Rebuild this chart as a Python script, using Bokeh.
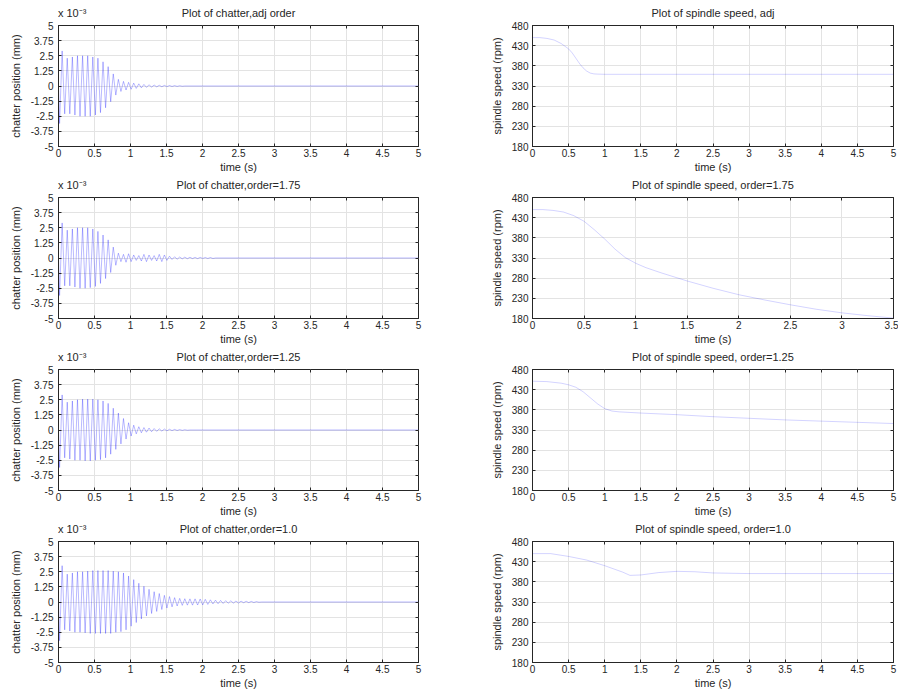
import numpy as np
from bokeh.plotting import figure
from bokeh.layouts import column, row
from bokeh.models import FixedTicker, LinearAxis, Range1d
from bokeh.embed import file_html
from bokeh.resources import INLINE

FONT = "Liberation Sans"
TXT = "#262626"

# ---------------- data ----------------
time_ticks = [0, 0.5, 1, 1.5, 2, 2.5, 3, 3.5, 4, 4.5, 5]
time_tick_labels = ["0", "0.5", "1", "1.5", "2", "2.5", "3", "3.5", "4", "4.5", "5"]
chatter_ticks = [5, 3.75, 2.5, 1.25, 0, -1.25, -2.5, -3.75, -5]
chatter_tick_labels = ["5", "3.75", "2.5", "1.25", "0", "-1.25", "-2.5", "-3.75", "-5"]
speed_ticks = [180, 230, 280, 330, 380, 430, 480]
speed_tick_labels = ["180", "230", "280", "330", "380", "430", "480"]
chatter_scale_text = "x 10\u207b\u00b3"

# chatter: successive peak magnitudes (x 1e-3 mm), alternating sign, one every half period
half_period = 0.0355
first_peak = 0.015
chatter_adj = [3.1, 2.9, 2.3, 2.3, 2.3, 2.4, 2.4, 2.5, 2.5, 2.5, 2.5, 2.5, 2.5, 2.4, 2.4, 2.3,
               2.2, 2.0, 1.8, 1.6, 1.3, 1.0, 0.75, 0.55, 0.45, 0.38, 0.33, 0.3, 0.27, 0.24,
               0.2, 0.18, 0.15, 0.13, 0.11, 0.1, 0.09, 0.08, 0.07, 0.06, 0.06, 0.05, 0.05,
               0.04, 0.04, 0.03, 0.03, 0.02, 0.02]
chatter_175 = [3.1, 2.9, 2.3, 2.3, 2.3, 2.4, 2.4, 2.5, 2.5, 2.5, 2.5, 2.5, 2.45, 2.4, 2.35, 2.2,
               2.1, 1.9, 1.7, 1.5, 1.2, 0.9, 0.6, 0.4, 0.3, 0.3, 0.35, 0.35, 0.3, 0.25, 0.2,
               0.2, 0.25, 0.3, 0.3, 0.25, 0.2, 0.2, 0.25, 0.3, 0.3, 0.25, 0.2, 0.15, 0.12,
               0.1, 0.1, 0.08, 0.07, 0.07, 0.06, 0.06, 0.05, 0.05, 0.05, 0.05, 0.04, 0.04,
               0.04, 0.04, 0.04]
chatter_125 = [3.1, 2.9, 2.3, 2.3, 2.4, 2.4, 2.5, 2.5, 2.5, 2.55, 2.55, 2.55, 2.55, 2.55, 2.5,
               2.5, 2.45, 2.4, 2.3, 2.2, 2.0, 1.8, 1.6, 1.4, 1.15, 0.95, 0.75, 0.6, 0.5, 0.4,
               0.32, 0.27, 0.23, 0.2, 0.18, 0.16, 0.14, 0.12, 0.11, 0.1, 0.09, 0.08, 0.07,
               0.06, 0.05, 0.05, 0.04, 0.03, 0.03, 0.02, 0.02]
chatter_10 = [3.2, 3.0, 2.3, 2.3, 2.4, 2.4, 2.5, 2.5, 2.5, 2.5, 2.55, 2.55, 2.6, 2.6, 2.6, 2.6,
              2.6, 2.6, 2.6, 2.6, 2.6, 2.55, 2.5, 2.5, 2.45, 2.4, 2.3, 2.15, 2.0, 1.85, 1.7,
              1.55, 1.4, 1.3, 1.15, 1.05, 0.95, 0.85, 0.78, 0.7, 0.62, 0.55, 0.5, 0.45, 0.4,
              0.36, 0.33, 0.3, 0.28, 0.27, 0.26, 0.26, 0.26, 0.26, 0.25, 0.25, 0.24, 0.22,
              0.2, 0.18, 0.16, 0.15, 0.14, 0.13, 0.12, 0.11, 0.1, 0.1, 0.09, 0.08, 0.08,
              0.07, 0.06, 0.06, 0.05, 0.05, 0.04, 0.03, 0.02]

# spindle speed (rpm)
speed_adj_t = [0, 0.1, 0.2, 0.3, 0.4, 0.5, 0.55, 0.6, 0.65, 0.7, 0.75, 0.8, 0.85, 0.9, 1.0,
               1.5, 2, 2.5, 3, 3.5, 4, 4.5, 5]
speed_adj = [450, 450, 448, 444, 435, 422, 412, 399, 386, 375, 367, 362, 360, 359.5, 359,
             359, 359, 359, 359, 359, 359, 359, 359]
speed_175_t = [0, 0.1, 0.2, 0.3, 0.4, 0.5, 0.6, 0.7, 0.8, 0.9, 1.0, 1.1, 1.25, 1.5, 1.75,
               2.0, 2.25, 2.5, 2.75, 3.0, 3.25, 3.5]
speed_175 = [450, 450, 448, 444, 435, 421, 400, 377, 352, 331, 317, 306, 293, 273, 255,
             239, 226, 214, 203, 194, 187, 181]
speed_125_t = [0, 0.2, 0.4, 0.5, 0.6, 0.7, 0.8, 0.9, 1.0, 1.1, 1.2, 1.5, 2, 2.5, 3, 3.5,
               4, 4.5, 5]
speed_125 = [451, 450, 446, 442, 436, 425, 410, 395, 383, 377, 375, 372, 368, 363, 359,
             355, 352, 349, 346]
speed_10_t = [0, 0.25, 0.5, 0.75, 1.0, 1.25, 1.35, 1.5, 1.75, 2.0, 2.25, 2.5, 3.0, 3.5, 4,
              4.5, 5]
speed_10 = [450, 450, 443, 434, 420, 404, 396, 397, 403, 406, 405, 402, 400.5, 400.5,
            400.5, 400.5, 400.5]

chatter_titles = ["Plot of chatter,adj order", "Plot of chatter,order=1.75",
                  "Plot of chatter,order=1.25", "Plot of chatter,order=1.0"]
speed_titles = ["Plot of spindle speed, adj", "Plot of spindle speed, order=1.75",
                "Plot of spindle speed, order=1.25", "Plot of spindle speed, order=1.0"]
speed_time_ends = [5, 3.5, 5, 5]

LINE = "#0000ff"


def chatter_series(amps):
    t = [0.0]
    y = [0.0]
    for k, a in enumerate(amps):
        t.append(first_peak + k * half_period)
        y.append(-a if k % 2 == 0 else a)
    t.append(t[-1] + half_period)
    y.append(0.0)
    t.append(5.0)
    y.append(0.0)
    return t, y


def style_axis(ax, ticks, labels):
    ax.ticker = FixedTicker(ticks=ticks)
    ax.major_label_overrides = {tk: lb for tk, lb in zip(ticks, labels)}
    ax.major_tick_in = 3
    ax.major_tick_out = 0
    ax.minor_tick_line_color = None
    ax.minor_tick_out = 0
    ax.major_tick_line_color = TXT
    ax.axis_line_color = TXT
    ax.major_label_text_font = FONT
    ax.major_label_text_font_size = "10px"
    ax.major_label_text_color = TXT
    ax.axis_label_text_font = FONT
    ax.axis_label_text_font_size = "11px"
    ax.axis_label_text_font_style = "normal"
    ax.axis_label_text_color = TXT


def edge_axis(ticker):
    ax = LinearAxis(ticker=ticker)
    ax.major_tick_line_color = None
    ax.major_tick_in = 0
    ax.major_tick_out = 0
    ax.minor_tick_line_color = TXT
    ax.minor_tick_in = 3
    ax.minor_tick_out = 0
    ax.axis_line_color = None
    ax.major_label_text_font = FONT
    ax.major_label_text_font_size = "11px"
    ax.major_label_text_color = TXT
    return ax


def make_fig(title, x_end, y0, y1, yticks, ylabels, ylabel, left, right, top, fw, xt, xl,
             scale_text=None):
    p = figure(frame_width=fw, frame_height=121,
               x_range=Range1d(0, x_end), y_range=Range1d(y0, y1),
               output_backend="svg", toolbar_location=None, title_location=None,
               min_border_left=left, min_border_right=right,
               min_border_top=top, min_border_bottom=28)
    p.outline_line_color = TXT
    p.outline_line_alpha = 1
    p.background_fill_color = "white"
    p.border_fill_color = "white"
    p.xgrid.grid_line_color = "#e3e3e3"
    p.ygrid.grid_line_color = "#e3e3e3"

    style_axis(p.xaxis[0], xt, xl)
    style_axis(p.yaxis[0], yticks, ylabels)
    p.xaxis[0].axis_label = "time (s)"
    p.xaxis[0].major_label_standoff = 2
    p.xaxis[0].axis_label_standoff = 1
    p.yaxis[0].axis_label = ylabel
    p.yaxis[0].major_label_standoff = 5 if left < 70 else 4
    p.yaxis[0].axis_label_standoff = 6

    # top edge: tick marks (minor) + title / scale text as labels
    pos = [x_end / 2]
    txt = [title]
    if scale_text is not None:
        pos = [0.19] + pos
        txt = [scale_text] + txt
    ta = edge_axis(FixedTicker(ticks=pos, minor_ticks=xt))
    ta.major_label_overrides = {a: b for a, b in zip(pos, txt)}
    ta.major_label_standoff = 7
    p.add_layout(ta, "above")

    ra = edge_axis(FixedTicker(ticks=[], minor_ticks=yticks))
    ra.major_label_standoff = 0
    p.add_layout(ra, "right")
    return p


tops = [25, 21, 22, 22]
chatter_data = [chatter_adj, chatter_175, chatter_125, chatter_10]
speed_data = [(speed_adj_t, speed_adj), (speed_175_t, speed_175),
              (speed_125_t, speed_125), (speed_10_t, speed_10)]

rows = []
for i in range(4):
    pl = make_fig(chatter_titles[i], 5, -5, 5, chatter_ticks, chatter_tick_labels,
                  "chatter position (mm)", 58, 31, tops[i], 360, time_ticks, time_tick_labels,
                  scale_text=chatter_scale_text)
    t, y = chatter_series(chatter_data[i])
    pl.line(t, y, line_color=LINE, line_width=0.5, line_alpha=0.55)

    xend = speed_time_ends[i]
    xt = [v for v in time_ticks if v <= xend]
    xl = [lb for v, lb in zip(time_ticks, time_tick_labels) if v <= xend]
    pr = make_fig(speed_titles[i], xend, 180, 480, speed_ticks, speed_tick_labels,
                  "spindle speed (rpm)", 83, 5, tops[i], 361, xt, xl)
    st, sv = speed_data[i]
    pr.line(st, sv, line_color=LINE, line_width=0.5, line_alpha=0.35)
    rows.append(row(pl, pr))

layout = column(*rows)
open("out.html", "w").write(file_html(layout, INLINE))
